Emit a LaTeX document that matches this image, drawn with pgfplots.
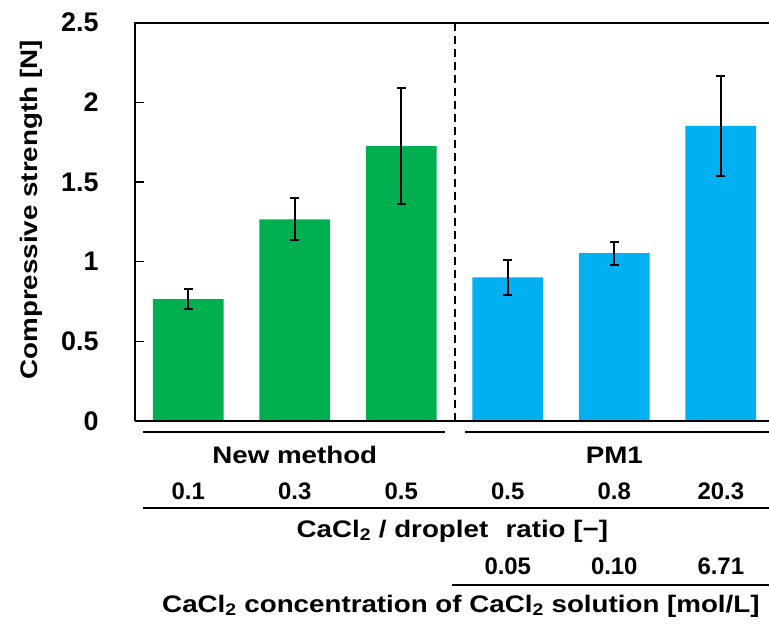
\documentclass[border=0pt]{standalone}
\usepackage{fontspec}
\setmainfont{Liberation Sans}
\newfontfamily\wfont{Liberation Sans}[FakeStretch=1.16]
\usepackage{pgfplots}
\pgfplotsset{compat=1.18}
\definecolor{mygreen}{HTML}{00B050}
\definecolor{myblue}{HTML}{00B0F0}
\newcommand{\bigf}{\fontsize{27}{27}\selectfont\bfseries}
\newcommand{\midf}{\fontsize{24}{24}\selectfont\bfseries}
\newcommand{\wordf}{\fontsize{24}{24}\selectfont\wfont\bfseries}
\begin{document}
\begin{tikzpicture}[x=1bp,y=1bp]
\begin{axis}[
 at={(0,0)}, anchor=south west,
 scale only axis, width=633.7bp, height=398.3bp,
 xmin=0.5, xmax=6.45, ymin=0, ymax=2.5,
 ytick={0,0.5,1,1.5,2,2.5}, xtick=\empty,
 yticklabels={0,0.5,1,1.5,2,2.5},
 tick align=inside, major tick length=9bp,
 ytick pos=left,
 tick style={line width=1.5bp, black},
 yticklabel style={font=\bigf, xshift=-33bp},
 axis line style={draw=none},
 ylabel={Compressive strength [N]},
 ylabel style={font=\wordf, at={(axis description cs:0,0.53)}, anchor=center, yshift=104bp},
 clip=false,
 error bars/error bar style={line width=2bp, black},
 error bars/error mark options={line width=2bp, black, mark size=4.5bp, rotate=90},
]
\addplot[ybar, bar shift=0pt, bar width=0.664, fill=mygreen, draw=none,
  error bars/.cd, y dir=both, y explicit]
 coordinates {(1,0.765) +- (0,0.063) (2,1.266) +- (0,0.133) (3,1.726) +- (0,0.361)};
\addplot[ybar, bar shift=0pt, bar width=0.664, fill=myblue, draw=none,
  error bars/.cd, y dir=both, y explicit]
 coordinates {(4,0.902) +- (0,0.111) (5,1.053) +- (0,0.073) (6,1.852) +- (0,0.313)};
\draw[line width=2bp, dash pattern=on 8bp off 5bp] (axis cs:3.5,0) -- (axis cs:3.5,2.5);
\draw[line width=1.8bp] (axis cs:0.5,0) -- (axis cs:0.5,2.5) -- (axis cs:6.45,2.5);
\draw[line width=1.8bp] (axis cs:0.5,0) -- (axis cs:6.45,0);
% group rows
\draw[line width=2.4bp] ([yshift=-11bp]axis cs:0.575,0) -- ([yshift=-11bp]axis cs:3.411,0);
\draw[line width=2.4bp] ([yshift=-11bp]axis cs:3.599,0) -- ([yshift=-11bp]axis cs:6.453,0);
\node[font=\wordf] at ([yshift=-34bp]axis cs:2,0) {New method};
\node[font=\wordf] at ([yshift=-34bp]axis cs:5,0) {PM1};
\node[font=\midf] at ([yshift=-70bp]axis cs:1,0) {0.1};
\node[font=\midf] at ([yshift=-70bp]axis cs:2,0) {0.3};
\node[font=\midf] at ([yshift=-70bp]axis cs:3,0) {0.5};
\node[font=\midf] at ([yshift=-70bp]axis cs:4,0) {0.5};
\node[font=\midf] at ([yshift=-70bp]axis cs:5,0) {0.8};
\node[font=\midf] at ([yshift=-70bp]axis cs:6,0) {20.3};
\draw[line width=2.4bp] ([yshift=-87bp]axis cs:0.575,0) -- ([yshift=-87bp]axis cs:6.453,0);
\node[font=\wordf] at ([yshift=-110bp]axis cs:3.48,0) {CaCl\textsubscript{2} / droplet\hspace{0.4em} ratio [−]};
\node[font=\midf] at ([yshift=-145bp]axis cs:4,0) {0.05};
\node[font=\midf] at ([yshift=-145bp]axis cs:5,0) {0.10};
\node[font=\midf] at ([yshift=-145bp]axis cs:6,0) {6.71};
\draw[line width=2.4bp] ([yshift=-164bp]axis cs:3.477,0) -- ([yshift=-164bp]axis cs:6.453,0);
\node[font=\wordf] at ([yshift=-185bp]axis cs:3.56,0) {CaCl\textsubscript{2} concentration of CaCl\textsubscript{2} solution [mol/L]};
\end{axis}
\pgfresetboundingbox
\useasboundingbox (-135,-205) rectangle (634,421);
\end{tikzpicture}
\end{document}
